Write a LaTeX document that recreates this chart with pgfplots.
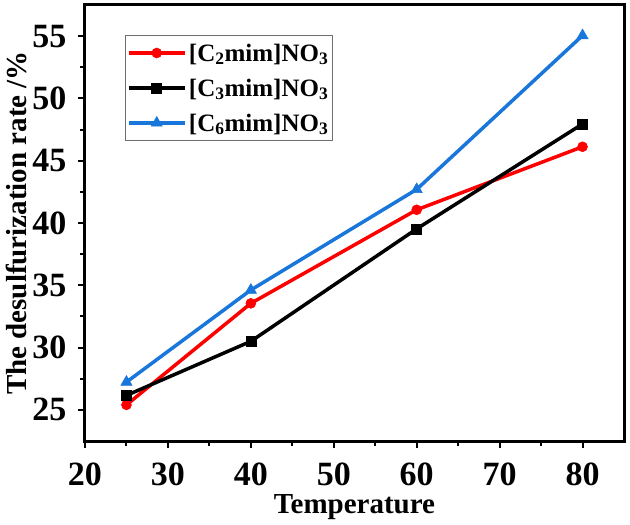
\documentclass[border=0pt]{standalone}
\usepackage{fontspec}
\setmainfont{Liberation Serif}
\usepackage{pgfplots}
\pgfplotsset{compat=1.18}
\definecolor{cred}{RGB}{255,0,0}
\definecolor{cblue}{RGB}{25,118,218}
\definecolor{legframe}{RGB}{110,110,110}
\begin{document}
\begin{tikzpicture}
\begin{axis}[
  scale only axis, width=539bp, height=436bp,
  xmin=20, xmax=85, ymin=22.5, ymax=57.5,
  xtick={20,30,...,80}, ytick={25,30,...,55},
  minor x tick num=1, minor y tick num=1,
  tick align=outside, xtick pos=bottom, ytick pos=left,
  major tick length=6.5bp, minor tick length=4.5bp,
  every tick/.style={black, line width=2bp},
  axis line style={line width=3bp},
  /pgf/number format/assume math mode=true,
  ticklabel style={font=\fontsize{34bp}{34bp}\selectfont\bfseries},
  xticklabel style={anchor=north, inner sep=0pt, yshift=-15bp},
  yticklabel style={anchor=east, inner sep=0pt, xshift=-12bp},
  xlabel={Temperature}, ylabel={The desulfurization rate /\%},
  label style={font=\fontsize{29bp}{29bp}\selectfont\bfseries},
  xlabel style={at={(axis description cs:0.5,-0.1654)}, anchor=base, inner sep=0pt},
  ylabel style={at={(axis description cs:-0.1466,0.5)}, anchor=north, inner sep=0pt},
  legend cell align=left,
  legend image code/.code={\draw[mark repeat=2, mark phase=2, #1] plot coordinates {(0bp,0bp) (28bp,0bp) (56bp,0bp)};},
  legend style={at={(axis description cs:0.0742,0.9312)}, anchor=north west,
    draw=legframe, line width=1bp, inner xsep=1.5bp, inner ysep=0pt, row sep=0pt,
    font=\fontsize{25bp}{25bp}\selectfont\bfseries,
    nodes={inner xsep=2.5bp, inner ysep=5.75bp, text height=20bp, text depth=3.5bp}},
]
\addplot[cred, line width=3.5bp, mark=*, mark size=5bp, mark options={solid, line width=0.5bp}]
  coordinates {(25,25.4) (40,33.55) (60,41.06) (80,46.12)};
\addlegendentry{[C\textsubscript{2}mim]NO\textsubscript{3}}
\addplot[black, line width=3.5bp, mark=square*, mark size=5bp, mark options={solid, line width=0.5bp}]
  coordinates {(25,26.16) (40,30.5) (60,39.53) (80,47.95)};
\addlegendentry{[C\textsubscript{3}mim]NO\textsubscript{3}}
\addplot[cblue, line width=3.5bp, mark=triangle*, mark size=6.5bp, mark options={solid, line width=0.5bp}]
  coordinates {(25,27.23) (40,34.62) (60,42.7) (80,55.05)};
\addlegendentry{[C\textsubscript{6}mim]NO\textsubscript{3}}
\end{axis}
\pgfresetboundingbox
\useasboundingbox (-85bp,-84bp) rectangle (545bp,441bp);
\end{tikzpicture}
\end{document}
